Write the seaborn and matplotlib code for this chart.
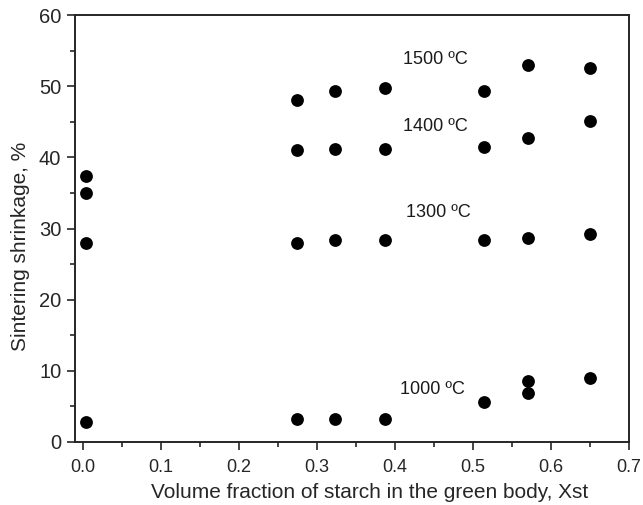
import numpy as np
import pandas as pd
import matplotlib
matplotlib.use('Agg')
import matplotlib.pyplot as plt
import seaborn as sns
from matplotlib.ticker import MultipleLocator

# volume fraction of starch (Xst) and sintering shrinkage (%)
x_1000 = [0.004, 0.275, 0.323, 0.387, 0.514, 0.571, 0.571, 0.650]
y_1000 = [2.8, 3.2, 3.2, 3.2, 5.6, 8.6, 6.9, 9.0]

x_1300 = [0.004, 0.275, 0.323, 0.387, 0.514, 0.571, 0.650]
y_1300 = [27.9, 27.9, 28.4, 28.4, 28.4, 28.7, 29.2]

x_1400 = [0.004, 0.004, 0.275, 0.323, 0.387, 0.514, 0.571, 0.650]
y_1400 = [35.0, 37.4, 41.1, 41.2, 41.2, 41.5, 42.7, 45.1]

x_1500 = [0.275, 0.323, 0.387, 0.514, 0.571, 0.650]
y_1500 = [48.0, 49.3, 49.7, 49.3, 53.0, 52.6]

temps = ['1000 ºC', '1300 ºC', '1400 ºC', '1500 ºC']
label_x = [0.406, 0.414, 0.410, 0.410]
label_y = [7.3, 32.2, 44.4, 53.7]

df = pd.concat([
    pd.DataFrame({'Xst': x_1000, 'shrink': y_1000, 'T': temps[0]}),
    pd.DataFrame({'Xst': x_1300, 'shrink': y_1300, 'T': temps[1]}),
    pd.DataFrame({'Xst': x_1400, 'shrink': y_1400, 'T': temps[2]}),
    pd.DataFrame({'Xst': x_1500, 'shrink': y_1500, 'T': temps[3]}),
], ignore_index=True)

sns.set_style('ticks')
plt.rcParams['font.family'] = ['Liberation Sans', 'DejaVu Sans']

fig = plt.figure(figsize=(6.43, 5.05), dpi=100)
ax = fig.add_axes([0.117, 0.125, 0.861, 0.845])

sns.scatterplot(data=df, x='Xst', y='shrink', color='black', s=85,
                edgecolor='black', linewidth=0, legend=False, ax=ax)

for t, lx, ly in zip(temps, label_x, label_y):
    ax.text(lx, ly, t, fontsize=13, va='center', ha='left', color='#1a1a1a')

ax.set_xlim(-0.01, 0.7)
ax.set_ylim(0, 60)
ax.xaxis.set_major_locator(MultipleLocator(0.1))
ax.xaxis.set_minor_locator(MultipleLocator(0.05))
ax.yaxis.set_major_locator(MultipleLocator(10))
ax.yaxis.set_minor_locator(MultipleLocator(5))
ax.xaxis.set_major_formatter(plt.FormatStrFormatter('%.1f'))
ax.tick_params(which='major', direction='out', length=6, width=1.2)
ax.tick_params(which='minor', direction='out', length=3.5, width=1.2)
ax.tick_params(axis='x', which='major', labelsize=13, pad=6.5)
ax.tick_params(axis='y', which='major', labelsize=14.5, pad=4)
for sp in ax.spines.values():
    sp.set_linewidth(1.4)
    sp.set_visible(True)

ax.set_xlabel('Volume fraction of starch in the green body, Xst', fontsize=15)
ax.set_ylabel('Sintering shrinkage, %', fontsize=15)
ax.xaxis.set_label_coords(0.532, -0.097)
ax.yaxis.set_label_coords(-0.081, 0.457)

plt.savefig('out.png', dpi=100)
